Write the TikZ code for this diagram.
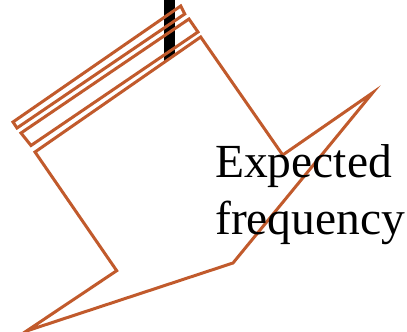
\documentclass[tikz,border=0pt]{standalone}
\usepackage{fontspec}
\setmainfont{Liberation Serif}
\definecolor{rust}{RGB}{193,90,44}
\begin{document}
\begin{tikzpicture}[x=1pt,y=-1pt,
  outline/.style={draw=rust,line width=3pt,line join=miter},
  lbl/.style={font=\fontsize{47.5}{57}\selectfont,align=left,inner sep=0pt,anchor=north west}]
\useasboundingbox (0,0) rectangle (407,332);
\fill[black] (164,0) rectangle (174.5,70);
\draw[outline] (180.7,6) -- (184.7,14) -- (17,128) -- (13,122) -- cycle;
\draw[outline] (189,19) -- (198,32) -- (31,145.5) -- (21,133) -- cycle;
\draw[outline,fill=white] (200.7,37) -- (282.7,155) -- (372.7,92.7) -- (233,263) -- (26.5,331) -- (116.7,270.7) -- (35,152) -- cycle;
\node[lbl] (t) at (215,144) {Expected\\frequency};
\end{tikzpicture}
\end{document}
